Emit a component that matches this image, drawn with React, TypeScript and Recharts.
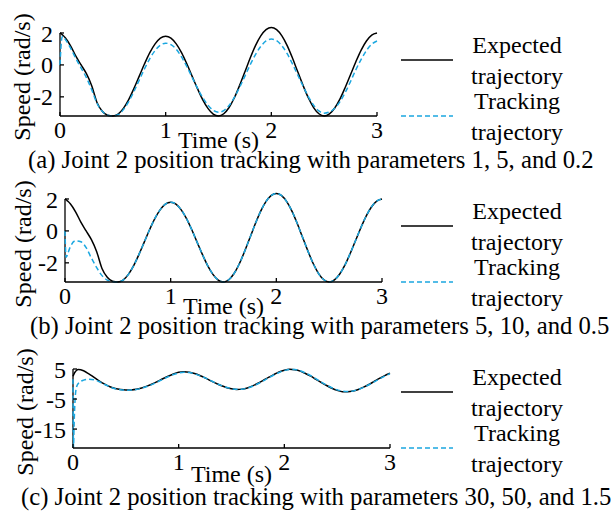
import { LineChart, Line, XAxis, YAxis, ReferenceLine, Label } from "recharts";

const FONT = '"Liberation Serif", "Times New Roman", serif';
const BLUE = "#1ba7e0";

// time samples (s)
const timeAB = [
  0, 0.01, 0.02, 0.03, 0.05, 0.1, 0.15, 0.2, 0.25, 0.3, 0.35, 0.4, 0.45, 0.5,
  0.55, 0.6, 0.65, 0.7, 0.75, 0.8, 0.85, 0.9, 0.95, 1.0, 1.05, 1.1, 1.15, 1.2,
  1.25, 1.3, 1.35, 1.4, 1.45, 1.5, 1.55, 1.6, 1.65, 1.7, 1.75, 1.8, 1.85, 1.9,
  1.95, 2.0, 2.05, 2.1, 2.15, 2.2, 2.25, 2.3, 2.35, 2.4, 2.45, 2.5, 2.55, 2.6,
  2.65, 2.7, 2.75, 2.8, 2.85, 2.9, 2.95, 3.0,
];
const timeC = [
  0, 0.005, 0.01, 0.02, 0.03, 0.05, 0.1, 0.15, 0.2, 0.25, 0.3, 0.35, 0.4, 0.45,
  0.5, 0.55, 0.6, 0.65, 0.7, 0.75, 0.8, 0.85, 0.9, 0.95, 1.0, 1.05, 1.1, 1.15,
  1.2, 1.25, 1.3, 1.35, 1.4, 1.45, 1.5, 1.55, 1.6, 1.65, 1.7, 1.75, 1.8, 1.85,
  1.9, 1.95, 2.0, 2.05, 2.1, 2.15, 2.2, 2.25, 2.3, 2.35, 2.4, 2.45, 2.5, 2.55,
  2.6, 2.65, 2.7, 2.75, 2.8, 2.85, 2.9, 2.95, 3.0,
];

// expected trajectory, panels (a) and (b)
const expectedAB = [
  2.0, 1.96, 1.9, 1.84, 1.7, 1.2, 0.55, 0.0, -0.55, -1.3, -2.35, -2.9, -3.15, -3.2,
  -3.08, -2.72, -2.17, -1.47, -0.7, 0.07, 0.77, 1.32, 1.68, 1.8, 1.68, 1.32, 0.77, 0.07,
  -0.7, -1.47, -2.17, -2.72, -3.08, -3.2, -3.06, -2.67, -2.06, -1.28, -0.43, 0.43, 1.21, 1.82,
  2.21, 2.35, 2.21, 1.82, 1.21, 0.43, -0.43, -1.28, -2.06, -2.67, -3.06, -3.2, -3.07, -2.7,
  -2.13, -1.4, -0.6, 0.2, 0.93, 1.5, 1.87, 2.0,
];
const trackingA = [
  0.0, 1.2, 1.75, 1.78, 1.6, 1.05, 0.4, -0.2, -0.8, -1.55, -2.4, -2.9, -3.15, -3.2,
  -3.12, -2.8, -2.3, -1.66, -0.95, -0.24, 0.4, 0.9, 1.24, 1.36, 1.27, 0.98, 0.5, -0.1,
  -0.77, -1.44, -2.04, -2.52, -2.84, -2.96, -2.86, -2.54, -2.04, -1.4, -0.7, 0.01, 0.65, 1.16,
  1.5, 1.62, 1.52, 1.2, 0.7, 0.06, -0.63, -1.32, -1.98, -2.52, -2.88, -3.02, -2.95, -2.72,
  -2.3, -1.72, -1.03, -0.3, 0.35, 0.9, 1.3, 1.5,
];
const trackingB = [
  0.0, -1.65, -1.55, -1.35, -1.0, -0.62, -0.68, -1.05, -1.7, -2.3, -2.8, -3.08, -3.18, -3.2,
  -3.08, -2.72, -2.17, -1.47, -0.7, 0.07, 0.77, 1.32, 1.68, 1.8, 1.68, 1.32, 0.77, 0.07,
  -0.7, -1.47, -2.17, -2.72, -3.08, -3.2, -3.06, -2.67, -2.06, -1.28, -0.43, 0.43, 1.21, 1.82,
  2.21, 2.35, 2.21, 1.82, 1.21, 0.43, -0.43, -1.28, -2.06, -2.67, -3.06, -3.2, -3.07, -2.7,
  -2.13, -1.4, -0.6, 0.2, 0.93, 1.5, 1.87, 2.0,
];
// panel (c)
const expectedC = [
  2.6, 3.0, 3.4, 4.0, 4.4, 4.8, 4.4, 3.4, 2.2, 1.0, -0.05, -0.9, -1.5, -1.85,
  -2.0, -1.95, -1.75, -1.3, -0.7, 0.0, 0.85, 1.75, 2.6, 3.35, 3.9, 4.1, 3.95, 3.5,
  2.85, 2.05, 1.15, 0.3, -0.5, -1.15, -1.6, -1.8, -1.7, -1.3, -0.6, 0.25, 1.2, 2.2,
  3.15, 4.0, 4.6, 4.9, 4.75, 4.3, 3.5, 2.6, 1.55, 0.5, -0.5, -1.4, -2.1, -2.55,
  -2.6, -2.35, -1.8, -1.05, -0.15, 0.85, 1.85, 2.8, 3.6,
];
const trackingC = [
  1.6, -21.0, -14.0, -5.0, -1.5, 0.2, 1.3, 1.6, 1.4, 0.75, -0.15, -0.95, -1.55, -1.9,
  -2.05, -2.0, -1.8, -1.38, -0.8, -0.1, 0.72, 1.6, 2.42, 3.15, 3.68, 3.9, 3.8, 3.4,
  2.8, 2.05, 1.2, 0.35, -0.45, -1.1, -1.55, -1.78, -1.72, -1.38, -0.72, 0.1, 1.05, 2.05,
  3.0, 3.85, 4.5, 4.85, 4.8, 4.4, 3.65, 2.75, 1.7, 0.65, -0.35, -1.25, -1.95, -2.4,
  -2.5, -2.3, -1.8, -1.1, -0.25, 0.7, 1.7, 2.65, 3.45,
];

const xTicks = [0, 1, 2, 3];
const yTicksAB = [-2, 0, 2];
const yTicksC = [-15, -5, 5];

const legendLabels = [["Expected", "trajectory"], ["Tracking", "trajectory"]];
const captions = [
  "(a) Joint 2 position tracking with parameters 1, 5, and 0.2",
  "(b) Joint 2 position tracking with parameters 5, 10, and 0.5",
  "(c) Joint 2 position tracking with parameters 30, 50, and 1.5",
];

const makeRows = (t: number[], e: number[], k: number[]) =>
  t.map((v, i) => ({ t: v, expected: e[i], tracking: k[i] }));

const tickStyle = { fill: "#000", fontSize: 24, fontFamily: FONT };

interface PanelProps {
  top: number;
  rows: { t: number; expected: number; tracking: number }[];
  axisLeft: number;
  plotTop: number;
  yDomain: [number, number];
  yTicks: number[];
  xLabelY: number;
  yLabelX: number;
  yLabelY: number;
  caption: string;
  captionLeft: number;
  captionTop: number;
}

function Panel(p: PanelProps) {
  const plotRight = p.axisLeft + 317;
  return (
    <div style={{ position: "absolute", left: 0, top: p.top, width: 613, height: 182 }}>
      <div style={{ position: "absolute", left: 0, top: 0 }}>
        <LineChart
          width={400}
          height={160}
          data={p.rows}
          margin={{ top: p.plotTop, right: 400 - plotRight, bottom: 0, left: 0 }}
        >
          <XAxis
            dataKey="t"
            type="number"
            domain={[0, 3]}
            ticks={xTicks}
            interval={0}
            height={44}
            stroke="#000"
            strokeWidth={1.3}
            tickSize={-4}
            tickMargin={9}
            tick={tickStyle}
            label={
              <Label
                content={() => (
                  <text
                    x={(p.axisLeft + plotRight) / 2}
                    y={p.xLabelY}
                    textAnchor="middle"
                    fontSize={24}
                    fontFamily={FONT}
                    fill="#000"
                  >
                    Time (s)
                  </text>
                )}
              />
            }
          />
          <YAxis
            type="number"
            domain={p.yDomain}
            ticks={p.yTicks}
            interval={0}
            width={p.axisLeft}
            axisLine={false}
            stroke="#000"
            strokeWidth={1.3}
            tickSize={-4}
            tickMargin={11}
            tick={tickStyle}
            label={
              <Label
                content={() => (
                  <text
                    transform={`translate(${p.yLabelX},${p.yLabelY}) rotate(-90)`}
                    textAnchor="middle"
                    dominantBaseline="central"
                    fontSize={24}
                    fontFamily={FONT}
                    fill="#000"
                  >
                    Speed (rad/s)
                  </text>
                )}
              />
            }
          />
          <ReferenceLine
            segment={[
              { x: 0, y: p.yDomain[0] },
              { x: 0, y: p.yTicks[p.yTicks.length - 1] },
            ]}
            stroke="#000"
            strokeWidth={1.3}
          />
          <Line
            type="monotone"
            dataKey="expected"
            stroke="#000"
            strokeWidth={1.5}
            dot={false}
            isAnimationActive={false}
          />
          <Line
            type="monotone"
            dataKey="tracking"
            stroke={BLUE}
            strokeWidth={1.5}
            strokeDasharray="5 3"
            dot={false}
            isAnimationActive={false}
          />
        </LineChart>
      </div>

      {/* legend */}
      <svg style={{ position: "absolute", left: 0, top: 0 }} width={613} height={150}>
        <line x1={401} x2={453} y1={60} y2={60} stroke="#000" strokeWidth={1.5} />
        <line x1={401} x2={453} y1={116} y2={116} stroke={BLUE} strokeWidth={1.5} strokeDasharray="5 3" />
      </svg>
      {legendLabels.map((pair, i) =>
        pair.map((txt, j) => (
          <div
            key={`${i}-${j}`}
            style={{
              position: "absolute",
              left: 460,
              width: 114,
              top: 45 + i * 56 + j * 31 - 14,
              textAlign: "center",
              fontSize: 24,
              lineHeight: "28px",
              fontFamily: FONT,
              color: "#000",
            }}
          >
            {txt}
          </div>
        ))
      )}

      <div
        style={{
          position: "absolute",
          left: p.captionLeft,
          top: p.captionTop,
          whiteSpace: "nowrap",
          fontSize: 24.7,
          lineHeight: "28px",
          fontFamily: FONT,
          color: "#000",
        }}
      >
        {p.caption}
      </div>
    </div>
  );
}

export default function App() {
  return (
    <div
      style={{
        position: "absolute",
        left: 0,
        top: 0,
        width: 613,
        height: 514,
        background: "#fff",
        overflow: "hidden",
      }}
    >
      <Panel
        top={0}
        rows={makeRows(timeAB, expectedAB, trackingA)}
        axisLeft={60}
        plotTop={25}
        yDomain={[-3.2, 2.5]}
        yTicks={yTicksAB}
        xLabelY={148}
        yLabelX={22}
        yLabelY={77}
        caption={captions[0]}
        captionLeft={28}
        captionTop={146}
      />
      <Panel
        top={166}
        rows={makeRows(timeAB, expectedAB, trackingB)}
        axisLeft={65}
        plotTop={25}
        yDomain={[-3.2, 2.5]}
        yTicks={yTicksAB}
        xLabelY={148}
        yLabelX={23}
        yLabelY={78}
        caption={captions[1]}
        captionLeft={30}
        captionTop={146}
      />
      <Panel
        top={332}
        rows={makeRows(timeC, expectedC, trackingC)}
        axisLeft={73}
        plotTop={34}
        yDomain={[-21.3, 6]}
        yTicks={yTicksC}
        xLabelY={150}
        yLabelX={25}
        yLabelY={80}
        caption={captions[2]}
        captionLeft={21}
        captionTop={151}
      />
    </div>
  );
}
